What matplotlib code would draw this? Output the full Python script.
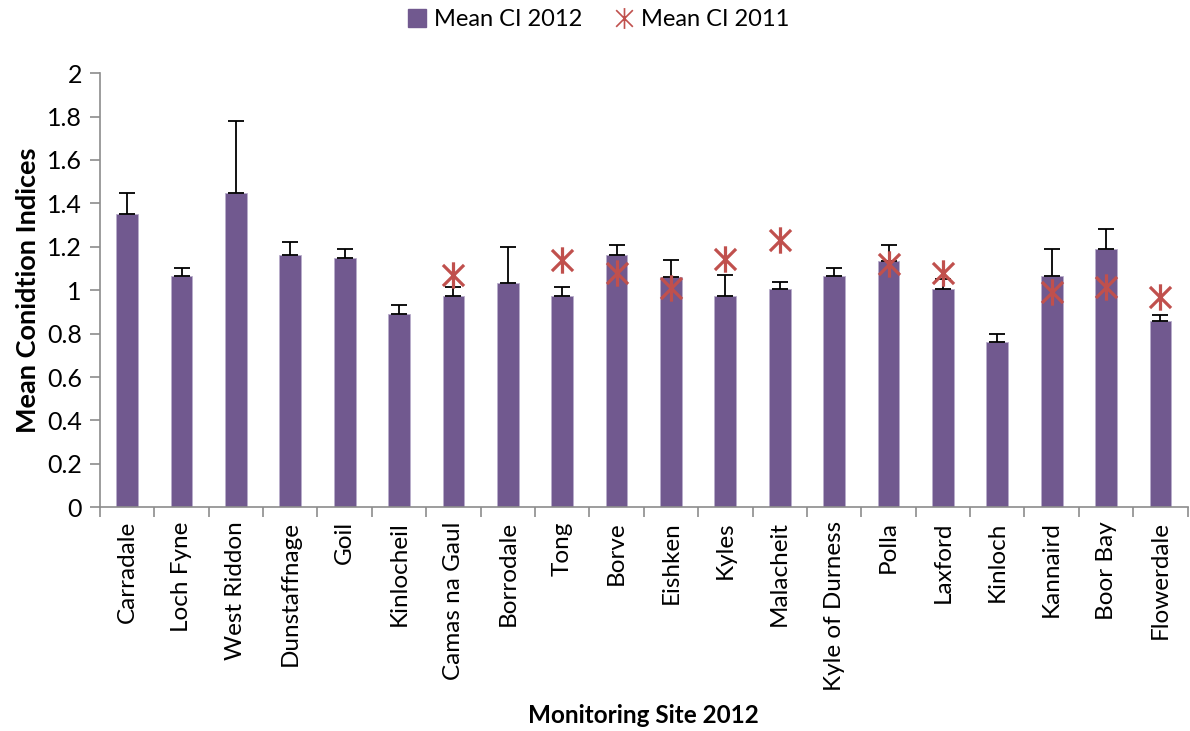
import matplotlib
matplotlib.use("Agg")
import matplotlib.pyplot as plt
import numpy as np
from matplotlib.path import Path
from matplotlib.lines import Line2D

plt.rcParams["font.family"] = ["Lato", "DejaVu Sans"]

# Values
sites = ["Carradale", "Loch Fyne", "West Riddon", "Dunstaffnage", "Goil",
         "Kinlocheil", "Camas na Gaul", "Borrodale", "Tong", "Borve",
         "Eishken", "Kyles", "Malacheit", "Kyle of Durness", "Polla",
         "Laxford", "Kinloch", "Kannaird", "Boor Bay", "Flowerdale"]
ci_2012 = [1.35, 1.065, 1.45, 1.16, 1.15, 0.89, 0.975, 1.035, 0.975, 1.16,
           1.06, 0.975, 1.005, 1.065, 1.135, 1.005, 0.76, 1.065, 1.19, 0.86]
err_2012 = [0.10, 0.035, 0.33, 0.06, 0.04, 0.04, 0.04, 0.165, 0.04, 0.05,
            0.08, 0.095, 0.035, 0.035, 0.075, 0.045, 0.04, 0.125, 0.09, 0.025]
ci_2011 = [np.nan, np.nan, np.nan, np.nan, np.nan, np.nan, 1.07, np.nan, 1.14, 1.08,
           1.01, 1.145, 1.23, np.nan, 1.12, 1.08, np.nan, 0.99, 1.015, 0.97]
ytick_labels = ["0", "0.2", "0.4", "0.6", "0.8", "1", "1.2", "1.4",
                "1.6", "1.8", "2"]

BAR_COLOR = "#71598F"
STAR_COLOR = "#C0504D"
AXIS_GREY = "#8C8C8C"

# Excel-style star marker: an X with a vertical stroke
STAR = Path([(-1, -1), (1, 1), (-1, 1), (1, -1), (0, -1.25), (0, 1.25)],
            [Path.MOVETO, Path.LINETO] * 3)

fig = plt.figure(figsize=(11.9, 7.31), dpi=100)
ax = fig.add_axes([0.084, 0.306, 0.914, 0.594])

x = np.arange(len(sites))
ax.bar(x, ci_2012, width=0.4, color=BAR_COLOR, edgecolor="#B9AECB",
       linewidth=0.6, zorder=2)
ax.errorbar(x, ci_2012, yerr=[np.zeros(len(x)), err_2012], fmt="none",
            ecolor="black", elinewidth=1.3, capsize=6, capthick=1.3, zorder=3)
ax.plot(x, ci_2011, linestyle="none", marker=STAR, markersize=19,
        markeredgecolor=STAR_COLOR, markerfacecolor="none",
        markeredgewidth=2.3, zorder=4)

ax.set_xlim(-0.5, len(sites) - 0.5)
ax.set_ylim(0, 2)
ax.set_yticks(np.arange(0, 2.01, 0.2))
ax.set_yticklabels(ytick_labels)
ax.set_xticks(x)
ax.set_xticklabels(sites, rotation=90)
ax.set_xticks(np.arange(-0.5, len(sites)), minor=True)
ax.tick_params(axis="x", which="major", length=0, pad=10, labelsize=17.5)
ax.tick_params(axis="x", which="minor", length=7, color=AXIS_GREY, width=1.2)
ax.tick_params(axis="y", length=7, color=AXIS_GREY, width=1.2, labelsize=18,
               pad=6)

for side in ["top", "right"]:
    ax.spines[side].set_visible(False)
for side in ["left", "bottom"]:
    ax.spines[side].set_color(AXIS_GREY)
    ax.spines[side].set_linewidth(1.2)

ax.set_ylabel("Mean Conidtion Indices", fontsize=19.5, fontweight="bold",
              labelpad=5)
# x title is centred under the plot area, near the bottom edge
fig.text(0.541, 0.005, "Monitoring Site 2012", ha="center", va="bottom",
         fontsize=17.5, fontweight="bold")

handles = [
    Line2D([], [], linestyle="none", marker="s", markersize=13,
           markerfacecolor=BAR_COLOR, markeredgecolor=BAR_COLOR),
    Line2D([], [], linestyle="none", marker=STAR, markersize=15,
           markeredgecolor=STAR_COLOR, markerfacecolor="none",
           markeredgewidth=1.2),
]
fig.legend(handles, ["Mean CI 2012", "Mean CI 2011"], loc="center",
           bbox_to_anchor=(0.503, 0.973), ncol=2, frameon=False,
           fontsize=17, handlelength=0.8, handletextpad=0.3,
           columnspacing=1.4)

fig.savefig("out.png", dpi=100)
